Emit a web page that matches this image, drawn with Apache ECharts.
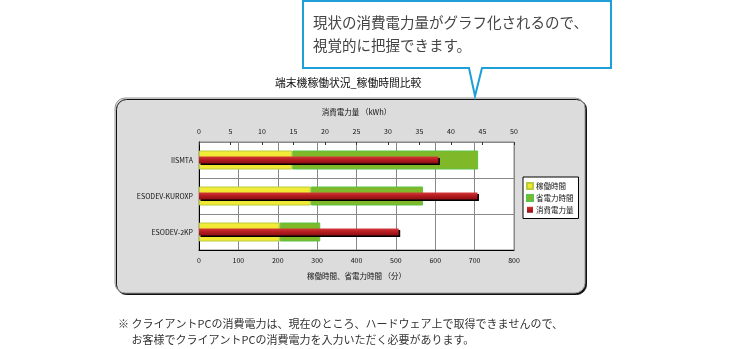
<!DOCTYPE html>
<html>
<head>
<meta charset="utf-8">
<script src="https://cdn.jsdelivr.net/npm/echarts@6/dist/echarts.min.js"></script>
<style>
html,body{margin:0;padding:0;background:#fff;}
#chart{width:748px;height:349px;}
</style>
</head>
<body>
<div id="chart"></div>
<script>
const categories = ['IISMTA', 'ESODEV-KUROXP', 'ESODEV-2KP'];
const operatingMinutes = [237, 284, 205];
const powerSaveMinutes = [472, 285, 103];
const powerKWh = [38.0, 44.2, 31.7];
const seriesNames = ['稼働時間', '省電力時間', '消費電力量'];
const minuteTicks = { min: 0, max: 800, interval: 100 };
const kwhTicks = { min: 0, max: 50, interval: 5 };
const chartTitle = '端末機稼働状況_稼働時間比較';
const topAxisName = '消費電力量 （kWh）';
const bottomAxisName = '稼働時間、省電力時間 （分）';
const calloutLines = ['現状の消費電力量がグラフ化されるので、', '視覚的に把握できます。'];
const noteLines = ['※ クライアントPCの消費電力は、現在のところ、ハードウェア上で取得できませんので、', '　 お客様でクライアントPCの消費電力を入力いただく必要があります。'];

const FONT = '"Noto Sans CJK JP", "Noto Sans", sans-serif';
const chart = echarts.init(document.getElementById('chart'), null, { renderer: 'canvas' });

const option = {
  animation: false,
  backgroundColor: '#fff',
  textStyle: { fontFamily: FONT },
  title: {
    text: chartTitle,
    left: 275, top: 78,
    textStyle: { fontSize: 10.8, fontWeight: 'normal', color: '#111', fontFamily: FONT },
    padding: 0
  },
  legend: {
    orient: 'vertical',
    left: 523, top: 177,
    data: seriesNames,
    icon: 'rect',
    itemWidth: 6, itemHeight: 6, itemGap: 4,
    padding: [5, 5, 5, 3],
    backgroundColor: '#fff',
    borderColor: '#000', borderWidth: 1,
    textStyle: { fontSize: 7.5, color: '#111', fontFamily: FONT, padding: [0, 0, 0, -2] }
  },
  grid: {
    left: 199, right: 234, top: 142, height: 108,
    show: true, backgroundColor: '#fff', borderColor: '#888', borderWidth: 1,
    containLabel: false
  },
  xAxis: [
    {
      type: 'value', position: 'bottom',
      min: minuteTicks.min, max: minuteTicks.max, interval: minuteTicks.interval,
      name: bottomAxisName, nameLocation: 'middle', nameGap: 22,
      nameTextStyle: { fontSize: 7.5, color: '#111', fontFamily: FONT },
      axisLine: { show: true, lineStyle: { color: '#000', width: 1 } },
      axisTick: { show: false },
      axisLabel: { fontSize: 7, color: '#111', margin: 7, fontFamily: FONT },
      splitLine: { show: true, lineStyle: { color: '#888', width: 1 } }
    },
    {
      type: 'value', position: 'top',
      min: kwhTicks.min, max: kwhTicks.max, interval: kwhTicks.interval,
      name: topAxisName, nameLocation: 'middle', nameGap: 26,
      nameTextStyle: { fontSize: 7.5, color: '#111', fontFamily: FONT },
      axisLine: { show: true, lineStyle: { color: '#888', width: 1 } },
      axisTick: { show: true, inside: true, length: 3, lineStyle: { color: '#333' } },
      axisLabel: { fontSize: 7, color: '#111', margin: 7, fontFamily: FONT },
      splitLine: { show: false }
    }
  ],
  yAxis: [
    {
      type: 'category', data: categories, inverse: true,
      axisLine: { show: true, lineStyle: { color: '#000', width: 1 } },
      axisTick: { show: false },
      axisLabel: { fontSize: 7, color: '#111', margin: 6, fontFamily: FONT },
      splitLine: { show: true, lineStyle: { color: '#888', width: 1 } }
    },
    {
      type: 'category', data: categories, inverse: true, show: false
    }
  ],
  series: [
    {
      name: seriesNames[0], type: 'bar', stack: 'time',
      xAxisIndex: 0, yAxisIndex: 0, barWidth: 19,
      data: operatingMinutes,
      itemStyle: {
        color: new echarts.graphic.LinearGradient(0, 0, 0, 1, [
          { offset: 0, color: '#f4ec3c' }, { offset: 0.5, color: '#eee62a' }, { offset: 1, color: '#f2ea38' }
        ]),
        borderColor: '#b8cc3c', borderWidth: 1
      }
    },
    {
      name: seriesNames[1], type: 'bar', stack: 'time',
      xAxisIndex: 0, yAxisIndex: 0, barWidth: 19,
      data: powerSaveMinutes,
      itemStyle: { color: '#7fb828', borderColor: '#5cc444', borderWidth: 1 }
    },
    {
      name: seriesNames[2], type: 'bar',
      xAxisIndex: 1, yAxisIndex: 1, barWidth: 7,
      data: powerKWh,
      itemStyle: {
        color: new echarts.graphic.LinearGradient(0, 0, 0, 1, [
          { offset: 0, color: '#d23a3a' }, { offset: 0.45, color: '#b81c20' }, { offset: 1, color: '#8a1014' }
        ]),
        shadowColor: '#000', shadowOffsetX: 1.5, shadowOffsetY: 1.5, shadowBlur: 0
      },
      z: 5
    }
  ],
  graphic: [
    {
      type: 'rect', z: -10,
      shape: { x: 115, y: 98, width: 470, height: 195, r: 10 },
      style: { fill: '#dcdcdc', stroke: '#9a9a9a', lineWidth: 1, shadowColor: '#111', shadowOffsetX: 1.5, shadowOffsetY: 1.5, shadowBlur: 0 }
    },
    {
      type: 'polygon', z: 10,
      shape: { points: [[303, 1], [611, 1], [611, 68], [482, 68], [475, 96], [469, 68], [303, 68]] },
      style: { fill: '#fff', stroke: '#1e9fd8', lineWidth: 2 }
    },
    {
      type: 'text', z: 11, left: 313, top: 15,
      style: { text: calloutLines[0], font: '14.5px ' + FONT, fill: '#444' }
    },
    {
      type: 'text', z: 11, left: 313, top: 38,
      style: { text: calloutLines[1], font: '14.5px ' + FONT, fill: '#444' }
    },
    {
      type: 'text', z: 11, left: 118, top: 318,
      style: { text: noteLines[0], font: '11px ' + FONT, fill: '#333' }
    },
    {
      type: 'text', z: 11, left: 118, top: 334,
      style: { text: noteLines[1], font: '11px ' + FONT, fill: '#333' }
    }
  ]
};
chart.setOption(option);
</script>
</body>
</html>
